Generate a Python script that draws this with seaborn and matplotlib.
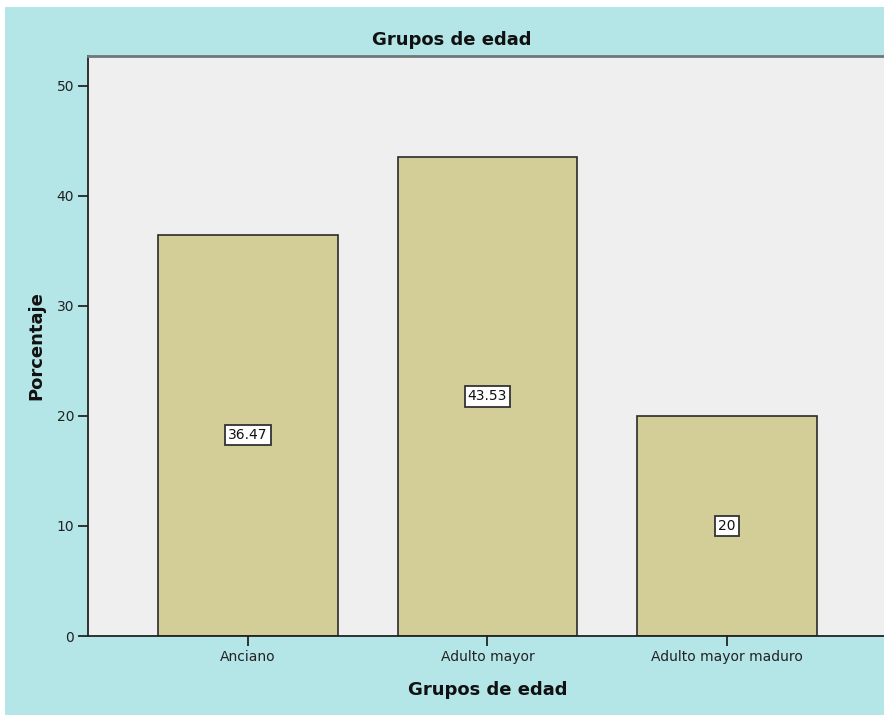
import matplotlib
matplotlib.use("Agg")
import matplotlib.pyplot as plt
import seaborn as sns
import pandas as pd
from matplotlib.patches import Rectangle

categories = ["Anciano", "Adulto mayor", "Adulto mayor maduro"]
percentages = [36.47, 43.53, 20]
value_labels = ["36.47", "43.53", "20"]
y_ticks = [0, 10, 20, 30, 40, 50]

sns.set_theme(style="white")
plt.rcParams["font.family"] = ["DejaVu Sans"]

W, H = 884, 715
fig = plt.figure(figsize=(W / 100, H / 100), dpi=100, facecolor="white")

# cyan backdrop of the chart frame
fig.patches.append(Rectangle((5 / W, 0), 1 - 5 / W, (H - 7) / H,
                             transform=fig.transFigure, facecolor="#b4e6e8",
                             edgecolor="none", zorder=-10))

ax = fig.add_axes([88 / W, (H - 636) / H, (W - 88) / W, (636 - 56) / H])
ax.set_facecolor("#efefef")

df = pd.DataFrame({"grupo": categories, "pct": percentages})
sns.barplot(data=df, x="grupo", y="pct", order=categories, color="#d3ce98",
            width=0.75, edgecolor="#2b2b2b", linewidth=1.2, saturation=1,
            ax=ax)

ax.set_xlim(-0.667, 2.655)
ax.set_ylim(0, 52.7)
ax.set_yticks(y_ticks)
ax.set_yticklabels([str(t) for t in y_ticks])

for i, (v, lab) in enumerate(zip(percentages, value_labels)):
    ax.text(i, v / 2, lab, ha="center", va="center", fontsize=10,
            color="#111111",
            bbox=dict(boxstyle="square,pad=0.22", facecolor="white",
                      edgecolor="#333333", linewidth=1.3))

for side in ["left", "bottom"]:
    ax.spines[side].set_color("#222222")
    ax.spines[side].set_linewidth(1.3)
ax.spines["top"].set_color("#6f7777")
ax.spines["top"].set_linewidth(2)
ax.spines["right"].set_visible(False)

ax.tick_params(axis="both", which="both", direction="out", length=7,
               width=1.3, color="#222222", labelsize=10,
               labelcolor="#222222", pad=3, left=True, bottom=True)
ax.set_xlabel("")
ax.set_ylabel("")

fig.text(452 / W, 1 - 40 / H, "Grupos de edad", ha="center", va="center",
         fontsize=13, fontweight="bold", color="#111111")
fig.text(488 / W, 1 - 690 / H, "Grupos de edad", ha="center", va="center",
         fontsize=13, fontweight="bold", color="#111111")
fig.text(36 / W, 1 - 346 / H, "Porcentaje", ha="center", va="center",
         rotation=90, fontsize=13, fontweight="bold", color="#111111")

fig.savefig("out.png", dpi=100, facecolor="white")
